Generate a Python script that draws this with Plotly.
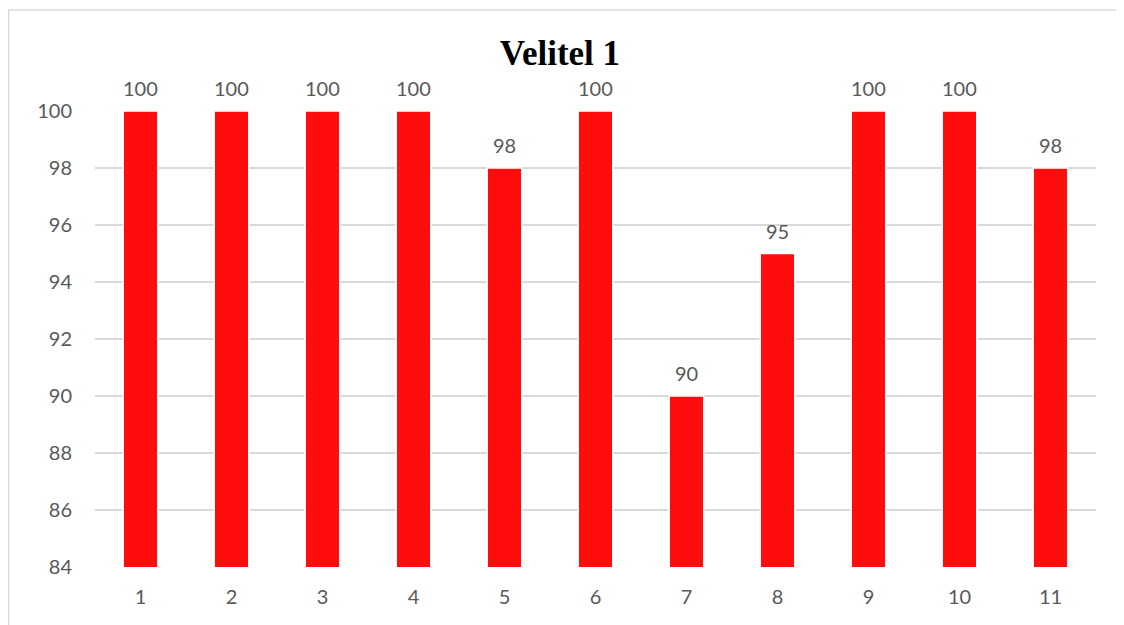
import plotly.graph_objects as go

categories = ["1", "2", "3", "4", "5", "6", "7", "8", "9", "10", "11"]
scores = [100, 100, 100, 100, 98, 100, 90, 95, 100, 100, 98]
y_ticks = [84, 86, 88, 90, 92, 94, 96, 98, 100]

label_font = dict(family="Lato, 'Open Sans', sans-serif", size=20, color="#595959")

fig = go.Figure(
    data=[
        go.Bar(
            x=categories,
            y=scores,
            marker=dict(color="#ff0d0d", line=dict(color="#ffffff", width=1.5)),
            cliponaxis=False,
            width=0.38,
            hoverinfo="x+y",
        )
    ]
)

# value labels sitting above each bar (category axis -> use the index)
for i, val in enumerate(scores):
    fig.add_annotation(
        x=i,
        y=val,
        text=str(val),
        showarrow=False,
        yanchor="bottom",
        yshift=9,
        font=label_font,
    )

fig.update_layout(
    width=1116,
    height=617,
    paper_bgcolor="#ffffff",
    plot_bgcolor="#ffffff",
    margin=dict(l=87, r=28, t=103, b=58),
    showlegend=False,
    title=dict(
        text="<b>Velitel 1</b>",
        x=0.4946,
        xanchor="center",
        y=0.927,
        yanchor="middle",
        font=dict(family="'Liberation Serif', 'Times New Roman', serif", size=35, color="#000000"),
    ),
    shapes=[
        dict(
            type="rect",
            xref="paper",
            yref="paper",
            x0=-0.0864,
            x1=1.2,
            y0=-0.3,
            y1=1.2215,
            line=dict(color="#d9d9d9", width=1.5),
            layer="below",
        )
    ],
)

fig.update_xaxes(
    type="category",
    range=[-0.5, len(categories) - 0.5],
    showgrid=False,
    showline=False,
    zeroline=False,
    ticks="",
    tickfont=label_font,
    ticklabelstandoff=16,
)
fig.update_yaxes(
    range=[84, 100],
    tickvals=y_ticks,
    showgrid=True,
    gridcolor="#d9d9d9",
    gridwidth=2,
    zeroline=False,
    showline=False,
    ticks="",
    tickfont=label_font,
    ticklabelstandoff=22,
)

fig.write_html("out.html")
